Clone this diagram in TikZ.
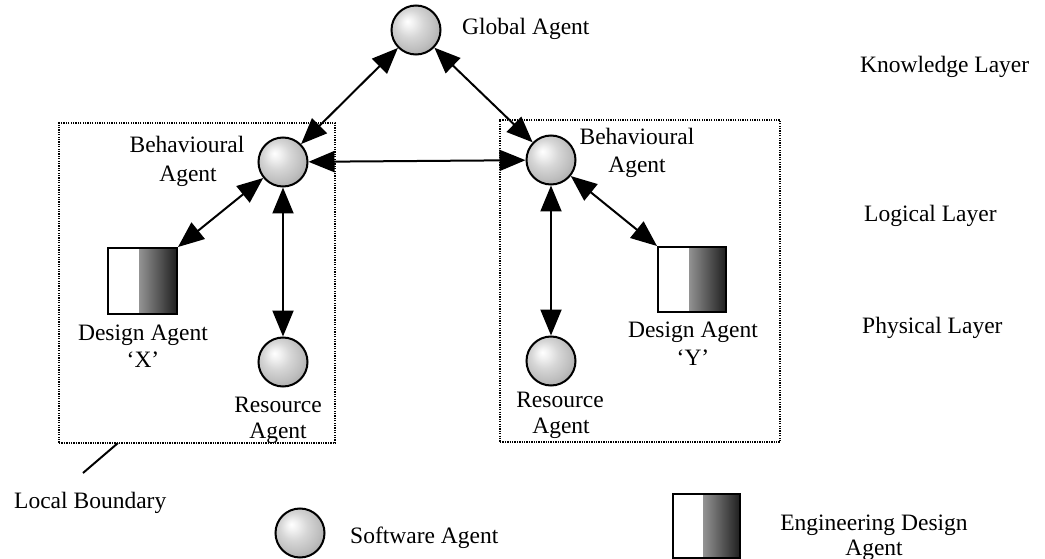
\documentclass[tikz,border=0pt]{standalone}
\usepackage{fontspec}
\setmainfont{Liberation Serif}
\usetikzlibrary{arrows.meta,shapes.geometric}
\pgfdeclareradialshading{sphereshade}{\pgfpoint{-9bp}{9bp}}{%
  color(0bp)=(white); color(5bp)=(gray!10); color(14bp)=(gray!32);
  color(24bp)=(gray!50); color(32bp)=(gray!68); color(50bp)=(gray!80)}
\tikzset{
  agent/.style={circle,draw=black,line width=2pt,minimum size=49pt,inner sep=0pt,shading=sphereshade},
  design/.style={rectangle,draw=black,line width=2pt,fill=white,inner sep=0pt,
    path picture={\shade[left color=gray!10,middle color=gray!35,right color=black!88]
      ([xshift=-3pt]path picture bounding box.north) rectangle (path picture bounding box.south east);}},
  boundary/.style={draw=black,line width=1.8pt,dash pattern=on 1.3pt off 1.1pt,inner sep=0pt},
  lbl/.style={font=\fontsize{23.5}{28}\selectfont,inner sep=0pt,anchor=base},
  lblw/.style={lbl,anchor=base west},
  link/.style={line width=2pt,{Triangle[length=26pt,width=21pt]}-{Triangle[length=26pt,width=21pt]}},
}
\begin{document}
\begin{tikzpicture}[x=1pt,y=-1pt]
\useasboundingbox (0,0) rectangle (1045,559);
% boundaries
\node[boundary,minimum width=276pt,minimum height=320pt] (lb) at (197,283) {};
\node[boundary,minimum width=280pt,minimum height=322pt] (rb) at (640,281) {};
% agents
\node[agent] (g) at (416,30) {};
\node[agent] (bl) at (283,162) {};
\node[agent] (br) at (551,160) {};
\node[agent] (rl) at (283,362) {};
\node[agent] (rr) at (551,361) {};
\node[design,minimum width=69pt,minimum height=66pt] (dx) at (142.5,281) {};
\node[design,minimum width=68pt,minimum height=65pt] (dy) at (692,279.5) {};
% legend
\node[agent] (ls) at (300,533) {};
\node[design,minimum width=67pt,minimum height=64pt] (ld) at (706.5,526) {};
% links
\draw[link] (g) -- (bl);
\draw[link] (g) -- (br);
\draw[link] (bl) -- (br);
\draw[link] (bl) -- (dx.north east);
\draw[link] (bl) -- (rl);
\draw[link] (br) -- (dy.north west);
\draw[link] (br) -- (rr);
% local boundary pointer
\coordinate (lbtop) at (118,443);
\coordinate (lbend) at (83,473);
\draw[line width=2pt] (lbtop) -- (lbend);
% labels
\node[lblw] (tg) at (462,35) {Global Agent};
\node[lblw] (tk) at (860,73) {Knowledge Layer};
\node[lblw] (tl) at (864,222) {Logical Layer};
\node[lblw] (tp) at (862,333) {Physical Layer};
\node[lbl] (tbl1) at (187,153) {Behavioural};
\node[lbl] (tbl2) at (188,182) {Agent};
\node[lbl] (tbr1) at (637,145) {Behavioural};
\node[lbl] (tbr2) at (637,173) {Agent};
\node[lbl] (tdx1) at (143,340) {Design Agent};
\node[lbl] (tdx2) at (143,367) {`X'};
\node[lbl] (tdy1) at (693,337) {Design Agent};
\node[lbl] (tdy2) at (693,365) {`Y'};
\node[lbl] (trl1) at (278,412) {Resource};
\node[lbl] (trl2) at (278,438) {Agent};
\node[lbl] (trr1) at (560,407) {Resource};
\node[lbl] (trr2) at (561,433) {Agent};
\node[lblw] (tlb) at (14,508) {Local Boundary};
\node[lblw] (tsa) at (350,543) {Software Agent};
\node[lbl] (ted1) at (874,530) {Engineering Design};
\node[lbl] (ted2) at (874,555) {Agent};
\end{tikzpicture}
\end{document}
